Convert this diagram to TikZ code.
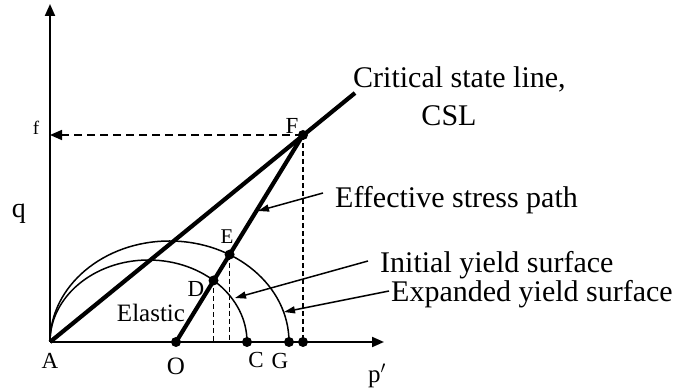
\documentclass[tikz,border=0pt]{standalone}
\usepackage{fontspec}
\setmainfont{Liberation Serif}
\usetikzlibrary{arrows.meta}
\begin{document}
\begin{tikzpicture}[x=1pt,y=1pt,
  axis/.style={line width=2pt,-{Triangle[length=12pt,width=10pt]}},
  thick line/.style={line width=4.2pt},
  yieldcurve/.style={line width=1.5pt},
  dashv/.style={line width=1.6pt,dash pattern=on 5pt off 3pt},
  dashh/.style={line width=1.6pt,dash pattern=on 8pt off 5pt},
  pointer/.style={line width=1.5pt,-{Triangle[length=11pt,width=7pt]}},
  dot/.style={circle,fill=black,inner sep=0pt,minimum size=10pt},
  big/.style={font=\fontsize{30}{34}\selectfont,inner sep=0pt},
  pt/.style={font=\fontsize{23}{25}\selectfont,inner sep=0pt},
]
\useasboundingbox (0,0) rectangle (674,390);
% base points
\coordinate (A) at (50,48);
\coordinate (Ytop) at (50,386);
\coordinate (Xend) at (384,48);
\coordinate (CSLend) at (355,297);
% axes
\draw[axis] (A) -- (Ytop);
\draw[axis] (A) -- (Xend);
% yield surfaces
\draw[yieldcurve] (A) arc[start angle=180,end angle=0,x radius=98.5pt,y radius=82pt] coordinate (Cc);
\draw[yieldcurve] (A) arc[start angle=180,end angle=0,x radius=119.5pt,y radius=101pt] coordinate (Gc);
% points
\node[dot] (O) at (176,48) {};
\node[dot] (C) at (247,48) {};
\node[dot] (G) at (289,48) {};
\node[dot] (H) at (303,48) {};
\node[dot] (F) at (303,255) {};
\node[dot] (D) at (213.5,109.5) {};
\node[dot] (E) at (229.6,135.4) {};
% dashed lines
\draw[dashv] (D.center) -- (D.center |- A);
\draw[dashv] (E.center) -- (E.center |- A);
\draw[dashv] (F.center) -- (H.center);
\draw[dashh,-{Triangle[length=12pt,width=10pt]}] (F.center) -- (F.center -| A);
% CSL and stress path
\draw[thick line] (A) -- (CSLend);
\draw[thick line] (O.center) -- (F.center);
% labels
\node[font=\fontsize{19}{21}\selectfont,inner sep=0pt] (flab) at (36,262) {f};
\node[font=\fontsize{28}{30}\selectfont,inner sep=0pt] (qlab) at (19,176) {q};
\node[pt] (Alab) at (50,29) {A};
\node[font=\fontsize{25}{27}\selectfont,inner sep=0pt] (Olab) at (176,24) {O};
\node[pt] (Clab) at (256,30) {C};
\node[pt] (Glab) at (280,29) {G};
\node[font=\fontsize{21}{23}\selectfont,inner sep=0pt] (Elab) at (227,153) {E};
\node[pt] (Dlab) at (196,101) {D};
\node[pt] (Flab) at (292,264) {F};
\node[font=\fontsize{25}{27}\selectfont,inner sep=0pt] (elastic) at (151,77) {Elastic};
\node[font=\fontsize{25}{27}\selectfont,inner sep=0pt] (plab) at (377,14) {p$'$};
\node[big,anchor=base west] (csl1) at (353,302) {Critical state line,};
\node[big,anchor=base] (csl2) at (449,264) {CSL};
\node[big,anchor=base west] (esp) at (335,182) {Effective stress path};
\node[big,anchor=base west] (iys) at (380,117) {Initial yield surface};
\node[big,anchor=base west] (eys) at (391,88) {Expanded yield surface};
% pointers
\coordinate (pE) at (258,179);
\coordinate (pI) at (235,92);
\coordinate (pX) at (284,78);
\draw[pointer] ([xshift=-12pt,yshift=15pt]esp.base west) -- (pE);
\draw[pointer] ([xshift=-12pt,yshift=12pt]iys.base west) -- (pI);
\draw[pointer] ([xshift=-2pt,yshift=11pt]eys.base west) -- (pX);
\end{tikzpicture}
\end{document}
